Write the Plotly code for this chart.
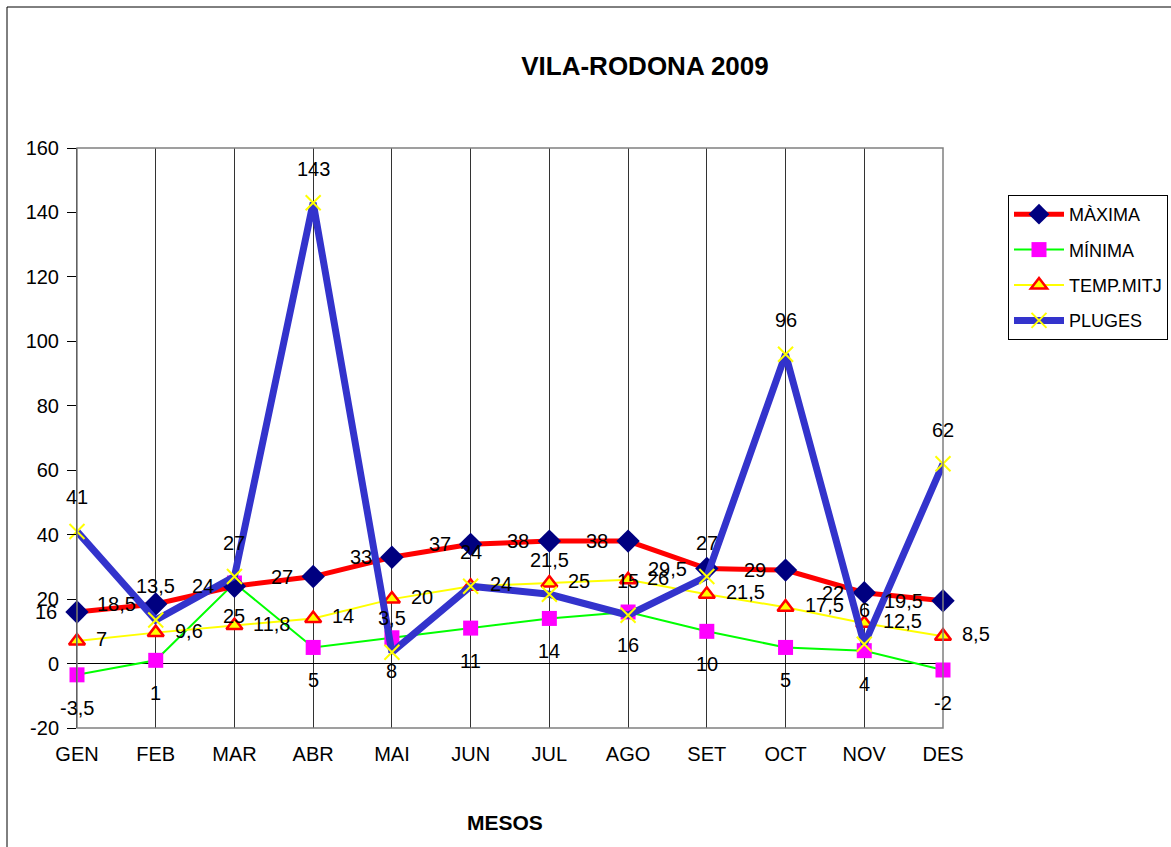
import plotly.graph_objects as go

months = ["GEN", "FEB", "MAR", "ABR", "MAI", "JUN", "JUL", "AGO", "SET", "OCT", "NOV", "DES"]
maxima = [16, 18.5, 24, 27, 33, 37, 38, 38, 29.5, 29, 22, 19.5]
minima = [-3.5, 1, 25, 5, 8, 11, 14, 16, 10, 5, 4, -2]
temp_mitj = [7, 9.6, 11.8, 14, 20, 24, 25, 26, 21.5, 17.5, 12.5, 8.5]
pluges = [41, 13.5, 27, 143, 3.5, 24, 21.5, 15, 27, 96, 6, 62]
y_ticks = [-20, 0, 20, 40, 60, 80, 100, 120, 140, 160]

FONT = "Liberation Sans, Arial, sans-serif"
x = list(range(len(months)))


def lab(v):
    return f"{v:g}".replace(".", ",")


fig = go.Figure()

fig.add_trace(go.Scatter(
    x=x, y=minima, name="MÍNIMA", mode="lines+markers",
    line=dict(color="#00FF00", width=2),
    marker=dict(symbol="square", size=15, color="#FF00FF"),
    cliponaxis=False, legendgroup="b", legendrank=2))

fig.add_trace(go.Scatter(
    x=x, y=temp_mitj, name="TEMP.MITJ", mode="lines+markers",
    line=dict(color="#FFFF00", width=2),
    marker=dict(symbol="triangle-up", size=14, color="#FFFF00",
                line=dict(color="#FF0000", width=2.5)),
    cliponaxis=False, legendgroup="c", legendrank=3))

fig.add_trace(go.Scatter(
    x=x, y=maxima, name="MÀXIMA", mode="lines+markers",
    line=dict(color="#FF0000", width=5),
    marker=dict(symbol="diamond", size=18, color="#000080"),
    cliponaxis=False, legendgroup="a", legendrank=1))

fig.add_trace(go.Scatter(
    x=x, y=pluges, name="PLUGES", mode="lines+markers",
    line=dict(color="#3333CC", width=7),
    marker=dict(symbol="x-thin", size=15, color="#FFFF00",
                line=dict(color="#FFFF00", width=2)),
    cliponaxis=False, legendgroup="d", legendrank=4))

# data labels (Excel-like placement)
LABFONT = dict(size=20, family=FONT, color="black")
for i in x:
    fig.add_annotation(x=i, y=maxima[i], text=lab(maxima[i]), showarrow=False,
                       xanchor="right", yanchor="middle", xshift=-18, font=LABFONT)
    fig.add_annotation(x=i, y=minima[i], text=lab(minima[i]), showarrow=False,
                       xanchor="center", yanchor="middle", yshift=-33, font=LABFONT)
    fig.add_annotation(x=i, y=temp_mitj[i], text=lab(temp_mitj[i]), showarrow=False,
                       xanchor="left", yanchor="middle", xshift=17, yshift=2, font=LABFONT)
    fig.add_annotation(x=i, y=pluges[i], text=lab(pluges[i]), showarrow=False,
                       xanchor="center", yanchor="middle", yshift=34, font=LABFONT)

L, R, T, B = 77, 228, 148, 119
PW = 1171 - L - R
PH = 847 - T - B

fig.update_layout(
    width=1171, height=847,
    margin=dict(l=L, r=R, t=T, b=B, pad=0, autoexpand=False),
    paper_bgcolor="white", plot_bgcolor="white",
    font=dict(family=FONT, size=19, color="black"),
    title=dict(text="<b>VILA-RODONA 2009</b>", x=645 / 1171, xanchor="center",
               y=1 - 66 / 847, yanchor="middle", yref="container",
               font=dict(size=26, family=FONT, color="black")),
    xaxis=dict(range=[0, 11], tickmode="array", tickvals=x, ticktext=months,
               showgrid=True, gridcolor="#333333", gridwidth=1,
               zeroline=False, showline=False, ticks="", ticklabelstandoff=12,
               tickfont=dict(size=20)),
    yaxis=dict(range=[-20, 160], tickmode="array", tickvals=y_ticks,
               ticktext=[str(v) for v in y_ticks], showgrid=False,
               zeroline=True, zerolinecolor="black", zerolinewidth=1,
               showline=True, linecolor="black", linewidth=1,
               ticks="outside", ticklen=9, tickcolor="black",
               ticklabelstandoff=4, tickfont=dict(size=20)),
    legend=dict(x=(1008 - L) / PW, y=(728 - 195) / PH, xanchor="left", yanchor="top",
                bordercolor="black", borderwidth=1, bgcolor="white",
                font=dict(size=18, family=FONT), tracegroupgap=9,
                itemwidth=50, traceorder="grouped"),
    showlegend=True,
)

# plot area border (grey)
fig.add_shape(type="rect", xref="paper", yref="paper", x0=0, x1=1, y0=0, y1=1,
              line=dict(color="#808080", width=1.5), layer="above")
# outer chart border
fig.add_shape(type="rect", xref="paper", yref="paper",
              x0=(7 - L) / PW, x1=(1172 - L) / PW,
              y0=(728 - 848) / PH, y1=(728 - 7) / PH,
              line=dict(color="black", width=1))

fig.add_annotation(text="<b>MESOS</b>", xref="paper", yref="paper",
                   x=(505 - L) / PW, y=(728 - 822) / PH, showarrow=False,
                   xanchor="center", yanchor="middle",
                   font=dict(size=21, family=FONT, color="black"))

fig.write_html("out.html", config={"displayModeBar": False},
               post_script="document.body.style.margin='0';document.body.style.overflow='hidden';")
